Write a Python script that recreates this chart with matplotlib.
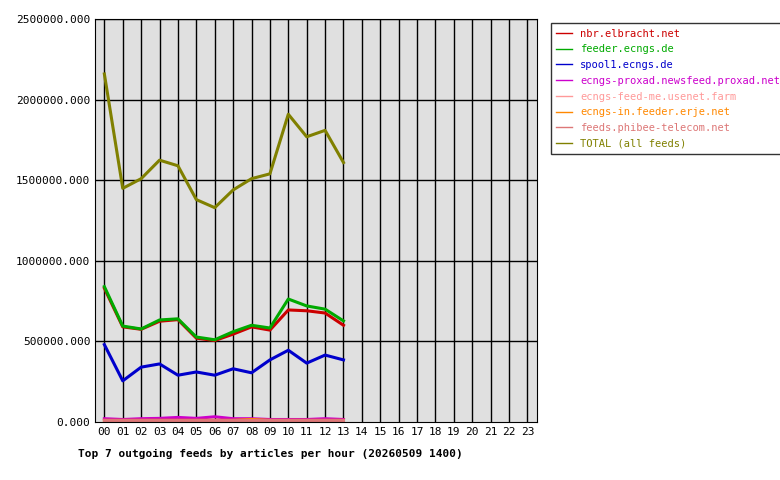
import matplotlib
matplotlib.use("Agg")
import matplotlib.pyplot as plt
from matplotlib.ticker import FuncFormatter

hours = list(range(14))
xticks = ["%02d" % h for h in range(24)]
names = ["nbr.elbracht.net", "feeder.ecngs.de", "spool1.ecngs.de",
         "ecngs-proxad.newsfeed.proxad.net", "ecngs-feed-me.usenet.farm",
         "ecngs-in.feeder.erje.net", "feeds.phibee-telecom.net", "TOTAL (all feeds)"]
colors = ["#cc0000", "#00aa00", "#0000cc", "#cc00cc", "#ff9999", "#ff8800", "#dd7777", "#808000"]
nbr = [830000, 590000, 575000, 625000, 635000, 520000, 505000, 545000, 590000, 570000, 695000, 690000, 676000, 600000]
feeder = [840000, 595000, 577000, 633000, 640000, 527000, 510000, 560000, 600000, 583000, 763000, 720000, 700000, 627000]
spool1 = [480000, 255000, 340000, 360000, 290000, 310000, 290000, 330000, 305000, 385000, 445000, 365000, 415000, 385000]
proxad = [20000, 15000, 20000, 22000, 28000, 22000, 32000, 20000, 20000, 15000, 15000, 15000, 20000, 15000]
farm = [12000, 12000, 12000, 12000, 12000, 12000, 12000, 12000, 12000, 12000, 12000, 12000, 12000, 12000]
erje = [10000, 10000, 10000, 10000, 10000, 10000, 10000, 10000, 15000, 10000, 10000, 10000, 10000, 10000]
phibee = [14000, 14000, 14000, 14000, 14000, 14000, 14000, 14000, 14000, 14000, 14000, 14000, 14000, 14000]
total = [2160000, 1450000, 1510000, 1625000, 1590000, 1380000, 1330000, 1440000, 1510000, 1540000, 1910000, 1770000, 1810000, 1610000]
series = [nbr, feeder, spool1, proxad, farm, erje, phibee, total]

plt.rcParams['font.family'] = ['DejaVu Sans Mono']
fig = plt.figure(figsize=(7.8, 4.8), dpi=100)
ax = fig.add_axes([0.122, 0.121, 0.566, 0.839])
ax.set_facecolor("#e0e0e0")
for s, n, c in zip(series, names, colors):
    ax.plot(hours, s, color=c, lw=2.2, label=n, marker='o', markersize=0)
ax.set_xlim(-0.5, 23.5)
ax.set_ylim(0, 2500000)
ax.set_xticks(range(24))
ax.set_xticklabels(xticks, fontsize=8)
ax.set_yticks(range(0, 2500001, 500000))
ax.yaxis.set_major_formatter(FuncFormatter(lambda v, p: "%.3f" % v))
ax.tick_params(labelsize=8, length=0)
for h in range(24):
    ax.axvline(h, color="black", lw=1, zorder=0.5)
for v in range(500000, 2500001, 500000):
    ax.axhline(v, color="black", lw=1, zorder=0.5)
leg = fig.legend(loc="upper left", bbox_to_anchor=(0.700, 0.962), fontsize=7.5,
                 frameon=True, fancybox=False, edgecolor="black", handlelength=1.5,
                 labelspacing=0.55, borderpad=0.5)
for t, c in zip(leg.get_texts(), colors):
    t.set_color(c)
for l in leg.get_lines():
    l.set_linewidth(1)
fig.text(0.1, 0.048, "Top 7 outgoing feeds by articles per hour (20260509 1400)",
         fontsize=8, fontweight="bold")
fig.savefig("out.png")
